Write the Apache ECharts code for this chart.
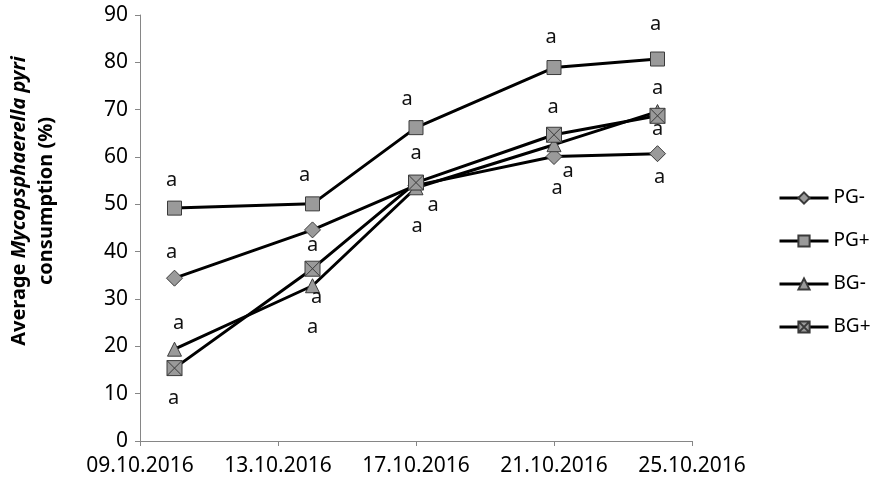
<!DOCTYPE html>
<html>
<head>
<meta charset="utf-8">
<script src="https://cdn.jsdelivr.net/npm/echarts@6/dist/echarts.min.js"></script>
<style>
  html, body { margin: 0; padding: 0; background: #fff; }
  #chart { width: 870px; height: 487px; }
</style>
</head>
<body>
<div id="chart"></div>
<script>
// sampling dates and mean consumption per treatment
const startDate = '09.10.2016';
const endDate = '25.10.2016';
const dates = ['10.10.2016', '14.10.2016', '17.10.2016', '21.10.2016', '24.10.2016'];
const pgMinus = [34.4, 44.6, 54.0, 60.1, 60.7];
const pgPlus = [49.2, 50.1, 66.2, 78.9, 80.7];
const bgMinus = [19.4, 32.8, 53.5, 62.6, 69.6];
const bgPlus = [15.4, 36.4, 54.6, 64.7, 68.7];
const letters = {
  'PG-': ['a', 'a', 'a', 'a', 'a'],
  'PG+': ['a', 'a', 'a', 'a', 'a'],
  'BG-': ['a', 'a', 'a', 'a', 'a'],
  'BG+': ['a', 'a', 'a', 'a', 'a']
};

// where each letter sits relative to its point
const labelOffsets = {
  'PG-': [[-3, -26], [0, 15], [1, 41], [3, 32], [2, 24]],
  'PG+': [[-3, -28], [-8, -29], [-9, -28], [-3, -30], [-2, -35]],
  'BG-': [[4, -26], [4, 12], [17, 18], [14, 27], [0, -23]],
  'BG+': [[-1, 30], [0, 59], [0, -29], [-1, -27], [0, 13]]
};

const DAY = 86400000;
function parseDate(s) {
  const [d, m, y] = s.split('.').map(Number);
  return Date.UTC(y, m - 1, d);
}
const base = parseDate(startDate);
const dayOf = s => (parseDate(s) - base) / DAY;
function fmtDate(v) {
  const d = new Date(base + v * DAY);
  const p = n => String(n).padStart(2, '0');
  return p(d.getUTCDate()) + '.' + p(d.getUTCMonth() + 1) + '.' + d.getUTCFullYear();
}

const FONT = 'Noto Sans';
const boxX = 'path://M0,0H10V10H0Z M0,0L10,10 M10,0L0,10';

function makeSeries(name, values, symbol, size) {
  return {
    type: 'line',
    name: name,
    symbol: symbol,
    symbolSize: size,
    data: values.map((v, i) => ({
      value: [dayOf(dates[i]), v],
      label: {
        show: true,
        position: 'inside',
        offset: labelOffsets[name][i],
        formatter: letters[name][i]
      }
    })),
    lineStyle: { color: '#000', width: 3 },
    itemStyle: { color: '#9a9a9a', borderColor: '#3a3a3a', borderWidth: 1 },
    label: { color: '#111', fontFamily: FONT, fontSize: 20 },
    emphasis: { disabled: true }
  };
}

const chart = echarts.init(document.getElementById('chart'));
chart.setOption({
  animation: false,
  backgroundColor: '#fff',
  grid: { left: 140, right: 178, top: 15, bottom: 46, outerBoundsMode: 'none' },
  legend: {
    orient: 'vertical',
    left: 773,
    top: 183,
    itemWidth: 49,
    itemHeight: 14,
    itemGap: 23,
    lineStyle: { width: 3 },
    textStyle: { fontFamily: FONT, fontSize: 19, lineHeight: 20, color: '#000' },
    data: ['PG-', 'PG+', 'BG-', 'BG+']
  },
  xAxis: {
    type: 'value',
    min: 0,
    max: dayOf(endDate),
    interval: 4,
    axisLine: { lineStyle: { color: '#868686' } },
    axisTick: { lineStyle: { color: '#868686' }, length: 5 },
    splitLine: { show: false },
    axisLabel: {
      formatter: fmtDate,
      margin: 15,
      color: '#000',
      fontFamily: FONT,
      fontSize: 21
    }
  },
  yAxis: {
    type: 'value',
    min: 0,
    max: 90,
    interval: 10,
    axisLine: { show: true, lineStyle: { color: '#868686' } },
    axisTick: { show: true, lineStyle: { color: '#868686' }, length: 5 },
    splitLine: { show: false },
    axisLabel: { margin: 12, color: '#000', fontFamily: FONT, fontSize: 21 },
    name: 'Average {i|Mycopsphaerella pyri}\nconsumption (%)',
    nameLocation: 'middle',
    nameRotate: 90,
    nameGap: 80,
    nameTextStyle: {
      fontFamily: FONT,
      fontSize: 20,
      fontWeight: 'bold',
      lineHeight: 27,
      color: '#000',
      padding: [0, 0, 0, 54],
      rich: {
        i: { fontFamily: FONT, fontSize: 20, fontWeight: 'bold', fontStyle: 'italic', color: '#000' }
      }
    }
  },
  series: [
    makeSeries('PG-', pgMinus, 'diamond', 16),
    makeSeries('PG+', pgPlus, 'rect', 14),
    makeSeries('BG-', bgMinus, 'triangle', 14),
    makeSeries('BG+', bgPlus, boxX, 15)
  ]
});
</script>
</body>
</html>
